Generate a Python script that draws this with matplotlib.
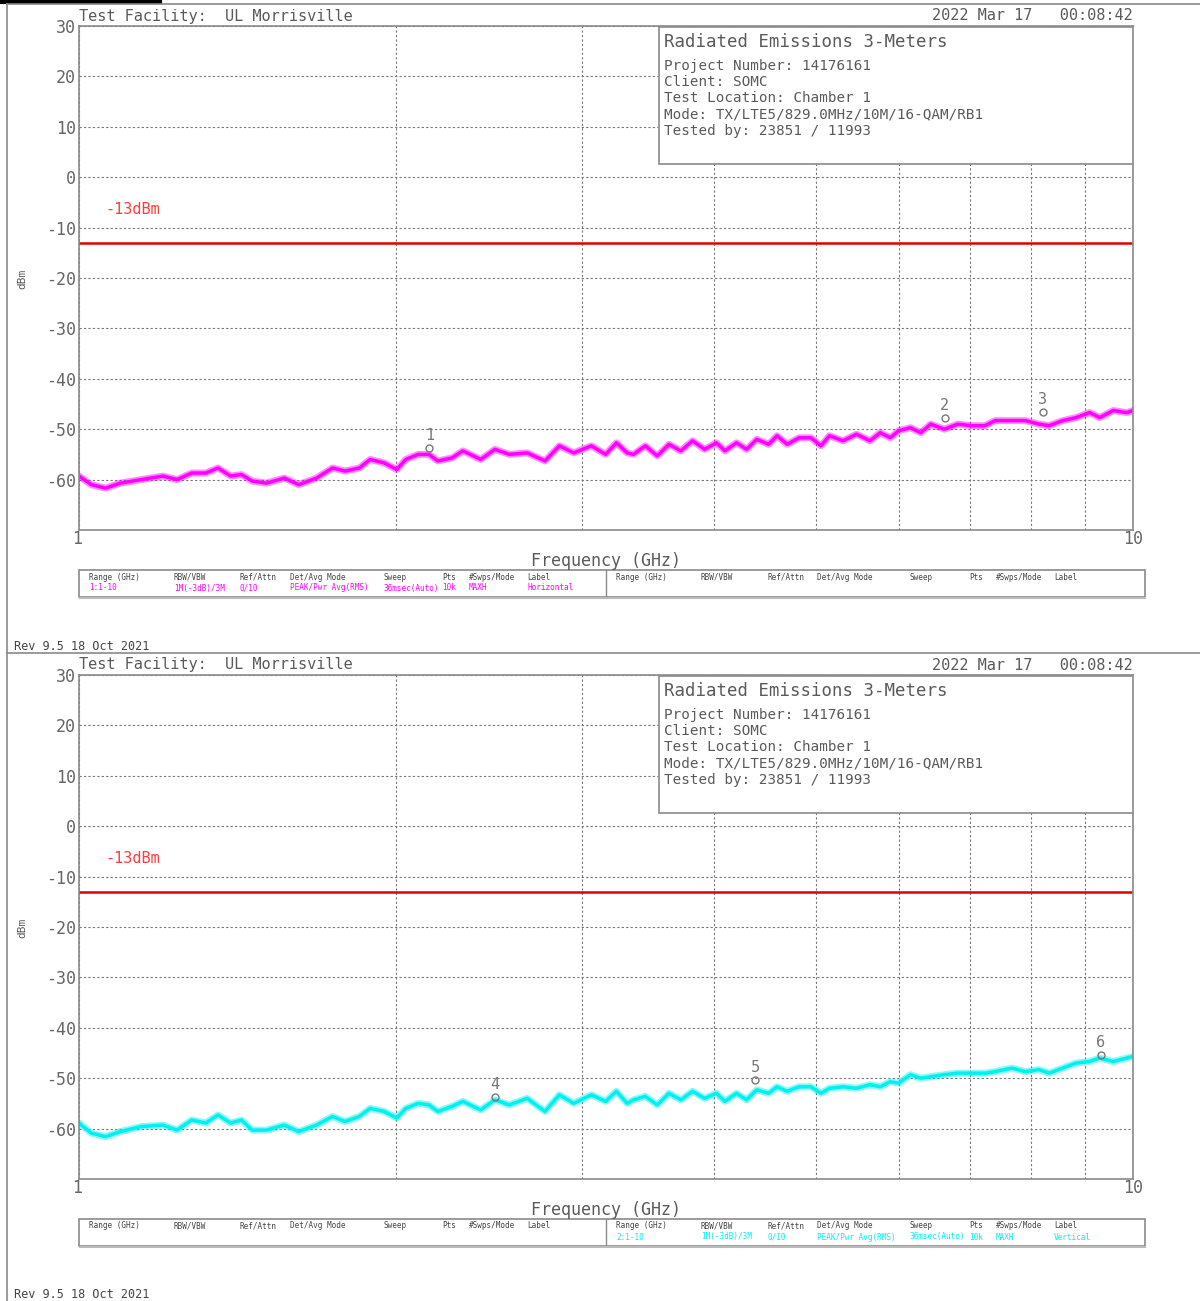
import numpy as np
import matplotlib.pyplot as plt
from matplotlib.patches import Rectangle
from matplotlib.lines import Line2D

plt.rcParams["font.family"] = ["DejaVu Sans Mono"]
plt.rcParams["axes.unicode_minus"] = False

# frequency points (GHz) where the traces were read
freq = [1.0, 1.027, 1.060, 1.094, 1.146, 1.201, 1.239, 1.279, 1.319, 1.355,
        1.393, 1.426, 1.460, 1.506, 1.566, 1.616, 1.680, 1.740, 1.788, 1.845,
        1.889, 1.948, 2.002, 2.042, 2.098, 2.148, 2.190, 2.259, 2.313, 2.405,
        2.481, 2.560, 2.662, 2.768, 2.856, 2.947, 3.063, 3.160, 3.235, 3.312,
        3.358, 3.446, 3.537, 3.629, 3.724, 3.821, 3.922, 4.025, 4.100, 4.206,
        4.300, 4.396, 4.511, 4.595, 4.698, 4.822, 4.948, 5.058, 5.152, 5.307,
        5.466, 5.630, 5.756, 5.885, 5.994, 6.150, 6.288, 6.428, 6.622, 6.820,
        7.026, 7.237, 7.398, 7.676, 7.906, 8.143, 8.325, 8.576, 8.831, 9.095,
        9.298, 9.577, 9.865, 10.0]

horiz_dbm = [-59.3, -61.0, -61.7, -60.7, -60.0, -59.3, -60.0, -58.7, -58.7, -57.7,
             -59.3, -59.0, -60.3, -60.7, -59.7, -61.0, -59.7, -57.7, -58.3, -57.7,
             -56.0, -56.7, -58.0, -56.0, -55.0, -55.0, -56.3, -55.7, -54.3, -56.0,
             -54.0, -55.0, -54.7, -56.3, -53.3, -54.7, -53.3, -55.0, -52.7, -54.7,
             -55.0, -53.3, -55.3, -53.0, -54.3, -52.3, -54.0, -52.7, -54.3, -52.7,
             -54.0, -52.0, -53.0, -51.3, -53.0, -51.7, -51.7, -53.3, -51.3, -52.3,
             -51.0, -52.3, -50.7, -51.7, -50.3, -49.7, -50.7, -49.0, -50.0, -49.0,
             -49.3, -49.3, -48.3, -48.3, -48.3, -49.0, -49.3, -48.3, -47.7, -46.7,
             -47.7, -46.3, -46.7, -46.3]

vert_dbm = [-58.9, -60.9, -61.6, -60.6, -59.6, -59.3, -60.3, -58.3, -58.9, -57.3,
            -58.9, -58.3, -60.3, -60.3, -59.3, -60.6, -59.3, -57.6, -58.6, -57.6,
            -56.0, -56.6, -57.9, -56.0, -55.0, -55.3, -56.6, -55.6, -54.6, -56.3,
            -54.3, -55.3, -54.0, -56.6, -53.3, -55.0, -53.3, -54.6, -52.6, -55.0,
            -54.3, -53.6, -55.3, -53.0, -54.3, -52.6, -54.0, -53.0, -54.6, -53.0,
            -54.3, -52.3, -53.0, -51.7, -52.6, -51.7, -51.7, -53.0, -52.0, -51.7,
            -52.0, -51.3, -51.7, -50.7, -51.0, -49.3, -50.0, -49.7, -49.3, -49.0,
            -49.0, -49.0, -48.7, -48.0, -48.7, -48.3, -49.0, -48.0, -47.0, -46.7,
            -46.0, -46.7, -46.0, -45.7]

horiz_mk_freq = [2.15, 6.63, 8.21]
horiz_mk_dbm = [-53.7, -47.8, -46.6]
horiz_mk_id = ["1", "2", "3"]
vert_mk_freq = [2.48, 4.38, 9.32]
vert_mk_dbm = [-53.7, -50.4, -45.4]
vert_mk_id = ["4", "5", "6"]

limit_dbm = -13
y_ticks = [30, 20, 10, 0, -10, -20, -30, -40, -50, -60]

info_lines = ["Project Number: 14176161", "Client: SOMC", "Test Location: Chamber 1",
              "Mode: TX/LTE5/829.0MHz/10M/16-QAM/RB1", "Tested by: 23851 / 11993"]
tbl_head = ["Range (GHz)", "RBW/VBW", "Ref/Attn", "Det/Avg Mode", "Sweep", "Pts",
            "#Swps/Mode", "Label"]
horiz_row = ["1:1-10", "1M(-3dB)/3M", "0/10", "PEAK/Pwr Avg(RMS)", "36msec(Auto)",
             "10k", "MAXH", "Horizontal"]
vert_row = ["2:1-10", "1M(-3dB)/3M", "0/10", "PEAK/Pwr Avg(RMS)", "36msec(Auto)",
            "10k", "MAXH", "Vertical"]

W, H = 1200, 1301
GRAY = "#5a5a5a"
fig = plt.figure(figsize=(W / 100, H / 100), dpi=100)


def ft(x, y, s, **kw):
    kw.setdefault("color", GRAY)
    kw.setdefault("va", "center")
    fig.text(x / W, 1 - y / H, s, **kw)


def fline(xs, ys, **kw):
    fig.add_artist(Line2D([x / W for x in xs], [1 - y / H for y in ys], **kw))


col_x = [0, 85, 151, 201, 294, 353, 380, 438]


def panel(top, trace, color, mk_f, mk_v, mk_id, row, right_half):
    ax = fig.add_axes([79 / W, 1 - (top + 504) / H, 1054 / W, 504 / H])
    ax.set_xscale("log")
    ax.set_xlim(1, 10)
    ax.set_ylim(-70, 30)
    ax.set_yticks(y_ticks)
    ax.set_yticklabels([str(v) for v in y_ticks], fontsize=12, color="#666666")
    ax.set_xticks([1, 10])
    ax.set_xticklabels([])
    ax.set_xticks([2, 3, 4, 5, 6, 7, 8, 9], minor=True)
    ax.xaxis.set_minor_formatter(plt.NullFormatter())
    ax.tick_params(length=0, which="both", pad=2)
    ax.grid(True, which="both", axis="x", color="#777777", ls=(0, (2, 2)), lw=0.8)
    ax.grid(True, axis="y", color="#777777", ls=(0, (2, 2)), lw=0.8)
    for s in ax.spines.values():
        s.set_color("#8a8a8a")
        s.set_linewidth(1.2)

    ax.plot(freq, trace, color=color, lw=5, alpha=0.45, solid_joinstyle="round", zorder=2)
    ax.plot(freq, trace, color=color, lw=2.5, solid_joinstyle="round", zorder=2)
    ax.axhline(limit_dbm, color="#e00000", lw=1.8, zorder=2)
    ax.text(1.059, -6.5, "-13dBm", color="#ff3b3b", fontsize=11, va="center")

    ax.plot(mk_f, mk_v, "o", ms=5, mfc="none", mec="#777777", mew=1, zorder=4)
    for f, v, t in zip(mk_f, mk_v, mk_id):
        ax.annotate(t, (f, v), xytext=(0, 9), textcoords="offset points",
                    ha="center", va="center", fontsize=11, color="#777777")

    ax.add_patch(Rectangle((0.5503, 0.726), 0.4497, 0.272, transform=ax.transAxes,
                           facecolor="white", edgecolor="#8a8a8a", lw=1.2, zorder=3))

    ft(79, top - 10, "Test Facility:  UL Morrisville", fontsize=11)
    ft(1133, top - 10, "2022 Mar 17   00:08:42", fontsize=11, ha="right")
    ft(664, top + 16, "Radiated Emissions 3-Meters", fontsize=12.5)
    for i, line in enumerate(info_lines):
        ft(664, top + 40 + i * 16.2, line, fontsize=10.3)
    ft(22, top + 253, "dBm", fontsize=8, rotation=90, ha="center")
    ft(77, top + 513, "1", fontsize=12, ha="center", color="#666666")
    ft(1133, top + 513, "10", fontsize=12, ha="center", color="#666666")
    ft(606, top + 535, "Frequency (GHz)", fontsize=12, ha="center")

    # settings table
    ty = top + 544
    fig.add_artist(Rectangle((79 / W, 1 - (ty + 27) / H), 1066 / W, 27 / H,
                             transform=fig.transFigure, facecolor="none",
                             edgecolor="#8a8a8a", lw=1.2))
    fline([606, 606], [ty, ty + 27], color="#8a8a8a", lw=1.0)
    fline([80, 1145], [ty + 28, ty + 28], color="#bbbbbb", lw=1.5)
    for x0 in (89, 616):
        for cx, h in zip(col_x, tbl_head):
            ft(x0 + cx, ty + 7, h, fontsize=5.5, color="#444444")
    x0 = 616 if right_half else 89
    for cx, v in zip(col_x, row):
        ft(x0 + cx, ty + 18, v, fontsize=5.5, color=color)
    ft(14, top + 620, "Rev 9.5 18 Oct 2021", fontsize=8.5, color="#444444")


panel(26, horiz_dbm, "#ff00ff", horiz_mk_freq, horiz_mk_dbm, horiz_mk_id, horiz_row, False)
panel(675, vert_dbm, "#00f0f0", vert_mk_freq, vert_mk_dbm, vert_mk_id, vert_row, True)

# page frame
fline([0, 160], [1.5, 1.5], color="black", lw=3)
fline([7, 1200], [4, 4], color="#8a8a8a", lw=1.2)
fline([7, 7], [4, 1301], color="#8a8a8a", lw=1.2)
fline([7, 1200], [653, 653], color="#8a8a8a", lw=1.2)

fig.savefig("out.png", dpi=100)
